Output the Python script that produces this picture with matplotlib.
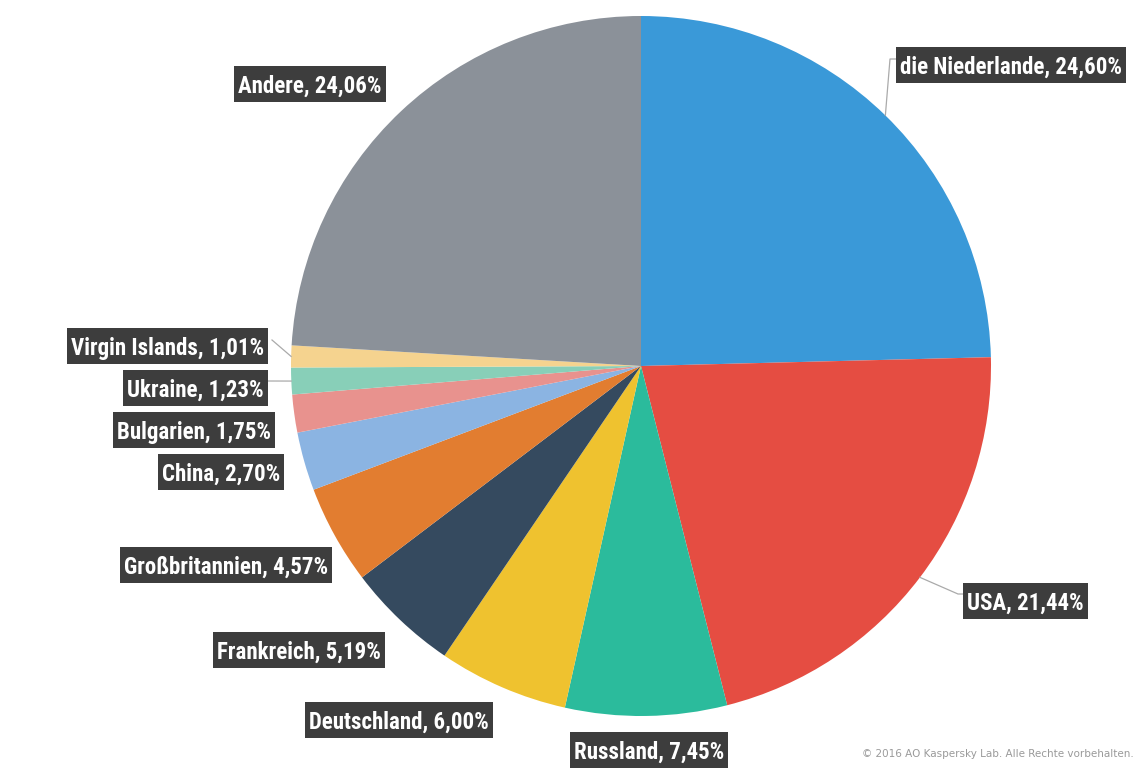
import numpy as np
import matplotlib
matplotlib.use("Agg")
import matplotlib.pyplot as plt
from matplotlib import font_manager as fm
from matplotlib.patches import Rectangle

# data (share in %)
countries = ["die Niederlande", "USA", "Russland", "Deutschland", "Frankreich",
             "Großbritannien", "China", "Bulgarien", "Ukraine", "Virgin Islands", "Andere"]
shares = [24.60, 21.44, 7.45, 6.00, 5.19, 4.57, 2.70, 1.75, 1.23, 1.01, 24.06]
colors = ["#3a99d8", "#e54d42", "#2bbb9c", "#efc22f", "#354a5f", "#e27d30",
          "#8bb4e2", "#e8928e", "#88cfb8", "#f5d38f", "#8b9199"]

# label placement in pixels: text anchor x, y, alignment, optional elbow / end of the leader
label_pos = [
    (900, 65, "left", (890, 59), (896, 59)),
    (967, 601, "left", (958, 594), (963, 594)),
    (649, 750, "center", None, None),
    (489, 720, "right", None, None),
    (381, 650, "right", None, None),
    (328, 565, "right", None, None),
    (280, 472, "right", None, None),
    (271, 430, "right", None, None),
    (264, 388, "right", None, (268, 381)),
    (264, 346, "right", None, (272, 340)),
    (382, 84, "right", None, None),
]

W, H = 1143, 769
CX, CY, R = 641, 366, 350
BOX_H = 36


def px(x, y):
    # pixel -> data coords (pie radius = 1)
    return (x - CX) / R, (CY - y) / R


# pick the narrowest bold font we can find
names = {f.name for f in fm.fontManager.ttflist}
fam = "DejaVu Sans"
stretch = "condensed"
for cand in ["Liberation Sans Narrow", "Roboto Condensed", "Open Sans Condensed",
             "Noto Sans Condensed", "DejaVu Sans Condensed"]:
    if cand in names:
        fam = cand
        stretch = "normal"
        break

fig = plt.figure(figsize=(W / 100, H / 100), dpi=100)
ax = fig.add_axes([0, 0, 1, 1])
ax.axis("off")

wedges, _ = ax.pie(shares, colors=colors, startangle=90, counterclock=False,
                   radius=1, center=(0, 0), wedgeprops=dict(linewidth=0))
ax.set_xlim(-CX / R, (W - CX) / R)
ax.set_ylim((CY - H) / R, CY / R)
ax.set_aspect("equal")

# size the font so the longest label is about as wide as in the original
renderer = fig.canvas.get_renderer()
probe = ax.text(0, 0, "die Niederlande, 24,60%", fontsize=16, fontweight="bold",
                family=[fam, "DejaVu Sans"], fontstretch=stretch)
pw = probe.get_window_extent(renderer).width
probe.remove()
fsize = min(16.5, 16 * 228 / pw)

texts = []
for w, name, val, (tx, ty, ha, elbow, end) in zip(wedges, countries, shares, label_pos):
    mid = np.deg2rad((w.theta1 + w.theta2) / 2)
    pts = [(np.cos(mid), np.sin(mid))]
    if elbow is not None:
        pts.append(px(*elbow))
    if end is not None:
        pts.append(px(*end))
    if len(pts) > 1:
        xs, ys = zip(*pts)
        ax.plot(xs, ys, color="#aaaaaa", lw=0.9, zorder=3)
    lbl = f"{name}, {val:.2f}%".replace(".", ",")
    x, y = px(tx, ty)
    t = ax.text(x, y, lbl, ha=ha, va="center_baseline", fontsize=fsize, fontweight="bold",
                family=[fam, "DejaVu Sans"], fontstretch=stretch, color="white", zorder=5)
    texts.append((t, ty))

fig.canvas.draw()
inv = ax.transData.inverted()
for t, ty in texts:
    bb = t.get_window_extent(renderer)
    x0, y0 = inv.transform((bb.x0 - 4, H - ty - BOX_H / 2))
    x1, y1 = inv.transform((bb.x1 + 4, H - ty + BOX_H / 2))
    ax.add_patch(Rectangle((x0, y0), x1 - x0, y1 - y0, fc="#3d3d3d", ec="none", zorder=4))

x, y = px(1134, 754)
ax.text(x, y, "© 2016 AO Kaspersky Lab. Alle Rechte vorbehalten.", ha="right", va="center",
        fontsize=7.5, color="#9a9a9a")

fig.savefig("out.png", dpi=100)
